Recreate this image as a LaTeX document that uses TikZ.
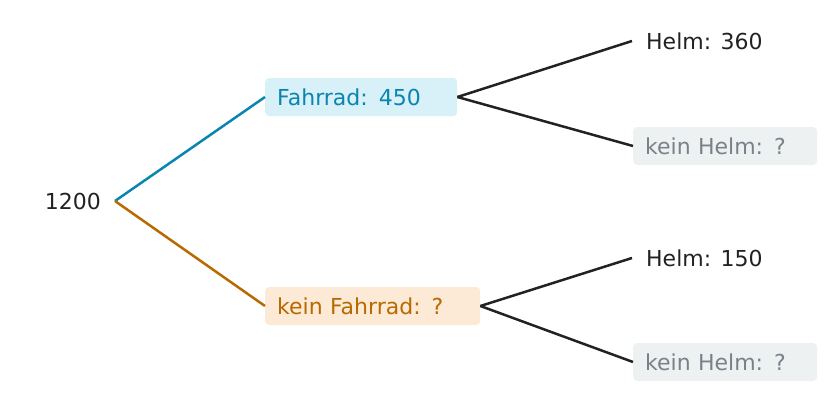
\documentclass[tikz,border=0pt]{standalone}
\usepackage{fontspec}
\setmainfont{DejaVu Sans}
\begin{document}
\begin{tikzpicture}[x=1pt,y=-1pt,
  every node/.style={font=\fontsize{22}{26}\selectfont},
  box/.style={rounded corners=4pt,inner xsep=12pt,inner ysep=0pt,anchor=west,align=left,minimum height=38pt},
  ln/.style={line width=2.5pt}]
\definecolor{dk}{HTML}{222222}
\definecolor{bl}{HTML}{0A85B0}\definecolor{blf}{HTML}{D8F0F7}
\definecolor{or}{HTML}{B86A00}\definecolor{orf}{HTML}{FCEAD6}
\definecolor{gr}{HTML}{7A8289}\definecolor{grf}{HTML}{EEF1F2}
\useasboundingbox (0,0) rectangle (839,405);
\node[anchor=east,text=dk,inner sep=0pt] (r) at (101,201) {1200};
\coordinate (rs) at (115,201);
\node[box,fill=blf,text=bl,text width=168pt] (f) at (265,97) {Fahrrad: 450};
\node[box,fill=orf,text=or,text width=191pt] (k) at (265,306) {kein Fahrrad: ?};
\node[anchor=west,text=dk,inner sep=0pt] (h1) at (646,41) {Helm: 360};
\node[box,fill=grf,text=gr,text width=160pt] (n1) at (633,146) {kein Helm: ?};
\node[anchor=west,text=dk,inner sep=0pt] (h2) at (646,258) {Helm: 150};
\node[box,fill=grf,text=gr,text width=160pt] (n2) at (633,362) {kein Helm: ?};
\coordinate (h1e) at (632,41);\coordinate (h2e) at (632,258);
\draw[ln,bl] (rs) -- (f.west);
\draw[ln,or] (rs) -- (k.west);
\draw[ln,dk] (f.east) -- (h1e);
\draw[ln,dk] (f.east) -- (n1.west);
\draw[ln,dk] (k.east) -- (h2e);
\draw[ln,dk] (k.east) -- (n2.west);
\end{tikzpicture}
\end{document}
